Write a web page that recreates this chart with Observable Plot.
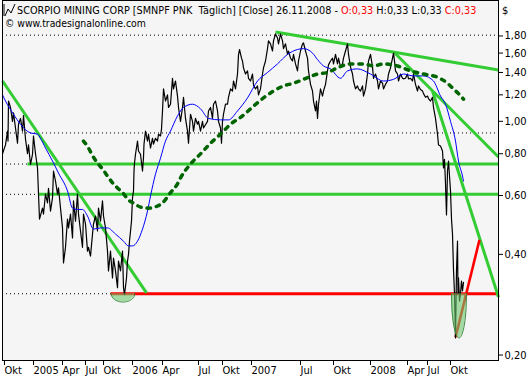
<!DOCTYPE html>
<html><head><meta charset="utf-8">
<script src="https://cdn.jsdelivr.net/npm/d3@7"></script>
<script src="https://cdn.jsdelivr.net/npm/@observablehq/plot@0.6"></script>
<style>
body{margin:0;background:#fff;}
#wrap{position:relative;width:531px;height:380px;overflow:hidden;}
#hdr{position:absolute;left:0;top:0;pointer-events:none;}
#hdr text{font-family:"DejaVu Sans Condensed","DejaVu Sans",sans-serif;font-stretch:condensed;white-space:pre;}
</style></head><body>
<div id="wrap"></div>
<script>
// ---- Data (bar index along the x axis, price in $) ----
const tickBars   = [1, 30, 59, 82, 100, 129, 159, 195, 219, 248, 297, 330, 367, 404, 424, 447];
const tickLabels = ["Okt","2005","Apr","Jul","Okt","2006","Apr","Jul","Okt","2007","Jul","Okt","2008","Apr","Jul","Okt"];
const yTicks = [1.8, 1.6, 1.4, 1.2, 1.0, 0.8, 0.6, 0.4, 0.2];

const close = [[0,0.80],[3,0.85],[5,0.935],[5.5,0.873],[6,1.15],[8,1.10],[10,1.00],[11,1.06],[13,0.955],[15,0.86],[16,0.98],[18,1.02],[20,0.935],[21,1.04],[23,0.885],[25,0.80],[26,0.85],[28,0.743],[30,0.797],[31,0.904],[33,0.80],[35,0.725],[36,0.606],[37,0.51],[40,0.55],[41,0.528],[43,0.606],[45,0.57],[46,0.63],[48,0.539],[50,0.59],[51,0.71],[53,0.663],[55,0.606],[56,0.632],[58,0.55],[60,0.48],[61,0.377],[63,0.42],[65,0.51],[66,0.48],[68,0.528],[70,0.448],[71,0.578],[73,0.503],[75,0.606],[76,0.528],[78,0.47],[80,0.42],[81,0.528],[83,0.493],[85,0.409],[86,0.42],[88,0.395],[90,0.46],[91,0.493],[93,0.521],[95,0.47],[96,0.55],[98,0.503],[100,0.578],[101,0.521],[103,0.48],[105,0.409],[106,0.357],[108,0.409],[110,0.34],[111,0.39],[113,0.357],[115,0.318],[116,0.382],[118,0.357],[120,0.409],[121,0.318],[122,0.303],[124,0.34],[125,0.382],[126,0.40],[127,0.438],[129,0.503],[130,0.59],[131,0.619],[131.5,0.71],[132,0.75],[133,0.797],[135,0.873],[136,0.815],[138,0.797],[140,0.71],[141,0.78],[141.5,0.855],[143,0.935],[145,0.873],[146,0.915],[148,0.832],[150,0.89],[151,0.855],[153,0.89],[155,0.873],[156,0.915],[158,0.904],[159,0.948],[160,1.074],[161,1.25],[163,1.15],[165,1.20],[166,1.10],[168,1.125],[170,1.345],[171,1.25],[173,1.32],[175,1.19],[176,1.10],[178,1.00],[180,1.10],[181,1.18],[183,1.02],[185,0.935],[186,0.86],[188,1.05],[190,1.00],[191,0.935],[193,1.02],[195,0.98],[196,1.00],[198,0.935],[200,1.00],[201,0.955],[205,1.00],[206,1.074],[208,1.10],[210,1.02],[211,1.125],[213,1.15],[215,1.074],[216,1.00],[218,0.955],[219,0.86],[220,1.00],[221,1.05],[223,1.125],[225,1.125],[226,1.18],[228,1.25],[230,1.232],[231,1.32],[233,1.25],[235,1.385],[236,1.58],[237,1.64],[239,1.545],[240,1.515],[241,1.445],[243,1.385],[245,1.415],[246,1.345],[248,1.32],[250,1.385],[251,1.285],[253,1.25],[255,1.276],[256,1.20],[258,1.25],[260,1.385],[261,1.445],[263,1.515],[265,1.65],[266,1.74],[268,1.705],[270,1.623],[271,1.74],[273,1.825],[275,1.775],[276,1.705],[278,1.825],[280,1.74],[281,1.65],[283,1.705],[285,1.585],[286,1.623],[288,1.545],[290,1.515],[291,1.585],[293,1.485],[295,1.415],[296,1.515],[298,1.623],[300,1.705],[301,1.715],[303,1.623],[305,1.545],[306,1.415],[308,1.29],[310,1.232],[311,1.15],[313,1.074],[314,1.15],[315,1.02],[316,1.125],[318,1.25],[320,1.19],[321,1.232],[323,1.29],[325,1.415],[326,1.475],[328,1.515],[330,1.545],[331,1.485],[333,1.585],[335,1.485],[336,1.545],[338,1.455],[340,1.485],[341,1.545],[343,1.623],[345,1.705],[346,1.585],[348,1.455],[350,1.385],[351,1.32],[353,1.25],[355,1.276],[356,1.25],[358,1.232],[360,1.276],[361,1.19],[363,1.25],[365,1.385],[366,1.515],[368,1.585],[370,1.455],[371,1.345],[373,1.385],[375,1.32],[376,1.25],[378,1.32],[380,1.30],[381,1.25],[383,1.29],[385,1.32],[386,1.385],[388,1.445],[390,1.545],[391,1.60],[392,1.515],[393,1.415],[395,1.385],[396,1.32],[398,1.385],[400,1.345],[401,1.34],[403,1.345],[405,1.385],[406,1.34],[408,1.345],[410,1.32],[411,1.385],[413,1.29],[415,1.232],[416,1.276],[418,1.245],[420,1.232],[421,1.21],[423,1.18],[425,1.19],[426,1.17],[428,1.15],[430,1.18],[431,1.10],[433,1.02],[435,0.915],[436,0.85],[438,0.844],[440,0.815],[441,0.725],[442,0.77],[443,0.65],[444,0.525],[445,0.71],[446,0.761],[448,0.619],[449,0.51],[450,0.46],[451,0.36],[452,0.305],[453,0.225],[454,0.357],[455,0.438],[455.5,0.305],[456,0.34],[457,0.29],[458,0.305],[459,0.333],[460,0.311],[461,0.33]];

const maShort = [[0,1.20],[3,1.15],[11,1.05],[18,0.98],[28,0.923],[35,0.916],[38,0.89],[43,0.832],[50,0.761],[56,0.70],[65,0.619],[70,0.55],[75,0.545],[80,0.545],[85,0.521],[91,0.476],[98,0.48],[105,0.48],[113,0.46],[121,0.438],[126,0.424],[130,0.424],[135,0.438],[140,0.476],[145,0.539],[148,0.598],[153,0.695],[158,0.776],[163,0.873],[168,0.935],[175,1.038],[181,1.10],[190,1.125],[198,1.09],[206,1.02],[218,1.01],[226,1.01],[235,1.074],[245,1.175],[255,1.32],[265,1.40],[275,1.485],[285,1.585],[295,1.64],[301,1.65],[310,1.60],[315,1.53],[321,1.464],[328,1.435],[338,1.345],[345,1.415],[355,1.435],[368,1.385],[381,1.32],[391,1.335],[401,1.385],[411,1.367],[421,1.367],[431,1.32],[438,1.19],[443,1.125],[448,1.00],[453,0.873],[456,0.761],[460,0.686],[461,0.663]];

const maLong = [[81,0.873],[86,0.832],[90,0.79],[95,0.75],[100,0.72],[105,0.686],[110,0.655],[115,0.632],[120,0.612],[126,0.582],[132,0.567],[138,0.554],[146,0.55],[155,0.558],[160,0.57],[168,0.612],[175,0.65],[178,0.677],[188,0.745],[198,0.799],[208,0.86],[218,0.916],[228,0.98],[240,1.038],[251,1.11],[261,1.175],[271,1.232],[281,1.276],[291,1.30],[301,1.335],[315,1.385],[325,1.40],[335,1.445],[348,1.485],[361,1.485],[371,1.464],[381,1.485],[395,1.464],[408,1.415],[421,1.385],[435,1.355],[445,1.30],[451,1.25],[456,1.21],[461,1.165]];

// horizontal levels (dotted across the whole chart)
const dottedLevels = [1.81, 0.923, 0.745, 0.605, 0.305];
// solid horizontal lines: start bar, level
const greenLevels = [{from: 25, v: 0.745}, {from: 36, v: 0.605}];
const redLevels   = [{from: 108, v: 0.305}];
// trend lines: [bar1, value1, bar2, value2]
const greenTrends = [
  {x1: 0,   v1: 1.32,  x2: 144, v2: 0.307},
  {x1: 273, v1: 1.85,  x2: 496, v2: 1.424},
  {x1: 391, v1: 1.615, x2: 496, v2: 0.782},
  {x1: 430, v1: 1.232, x2: 496, v2: 0.298}
];
const redTrends = [{x1: 453, v1: 0.226, x2: 477, v2: 0.442}];
// bowl annotations: bar range, rim level, bottom level
const bowls = [
  {x1: 108.7, x2: 132.3, top: 0.305, bottom: 0.288},
  {x1: 449,   x2: 464,   top: 0.305, bottom: 0.225}
];
// header texts
const headerSegments = [
  {t: "SCORPIO MINING CORP [SMNPF PNK  Täglich] [Close] 26.11.2008 - ", c: "#000"},
  {t: "O:0,33", c: "#ff0000"},
  {t: " H:0,33 L:0,33 ", c: "#000"},
  {t: "C:0,33", c: "#ff0000"}
];
const copyright = "© www.tradesignalonline.com";

// ---- build ----
const xEnd = 496;
const labelMap = new Map(tickBars.map((b, i) => [b, tickLabels[i]]));
const fmt = d => d.toFixed(2).replace(".", ",");

const bowlPts = bowls.map((b, k) => {
  const cx = (b.x1 + b.x2) / 2, hw = (b.x2 - b.x1) / 2;
  const pts = [];
  for (let i = 0; i <= 40; i++) {
    const t = -1 + i / 20;
    const s = Math.sqrt(Math.max(0, 1 - t * t));
    pts.push({k, x: cx + hw * t, top: b.top, v: b.top * Math.pow(b.bottom / b.top, s)});
  }
  return pts;
}).flat();

const GREEN = "#33cc33", RED = "#ff0000";
const chart = Plot.plot({
  width: 531, height: 380,
  marginLeft: 2, marginRight: 33, marginTop: 0, marginBottom: 20,
  style: {fontFamily: "'DejaVu Sans Condensed','DejaVu Sans',sans-serif", fontStretch: "condensed", fontSize: "11px", background: "#fff", color: "#000", overflow: "visible"},
  x: {type: "linear", domain: [0, xEnd]},
  y: {type: "log", domain: [0.1926, 2.298]},
  marks: [
    Plot.frame({fill: "#f5f5f5", stroke: null}),
    Plot.ruleY(dottedLevels, {stroke: "#000", strokeWidth: 1, strokeDasharray: "1,3"}),
    Plot.link(greenLevels, {x1: "from", x2: () => xEnd, y1: "v", y2: "v", stroke: GREEN, strokeWidth: 3}),
    Plot.link(redLevels, {x1: "from", x2: () => xEnd, y1: "v", y2: "v", stroke: RED, strokeWidth: 3}),
    Plot.link(greenTrends, {x1: "x1", y1: "v1", x2: "x2", y2: "v2", stroke: GREEN, strokeWidth: 3}),
    Plot.link(redTrends, {x1: "x1", y1: "v1", x2: "x2", y2: "v2", stroke: RED, strokeWidth: 2.6}),
    Plot.line(close, {x: d => d[0], y: d => d[1], stroke: "#000", strokeWidth: 1.2}),
    Plot.line(maShort, {x: d => d[0], y: d => d[1], stroke: "#0000ff", strokeWidth: 1, curve: "monotone-x"}),
    Plot.line(maLong, {x: d => d[0], y: d => d[1], stroke: "#006400", strokeWidth: 3.5, strokeDasharray: "3.5,6", curve: "monotone-x"}),
    Plot.areaY(bowlPts, {x: "x", y1: "top", y2: "v", z: "k", fill: "#6cc86c", fillOpacity: 0.6}),
    Plot.line(bowlPts, {x: "x", y: "v", z: "k", stroke: "#3f8a3f", strokeWidth: 1}),
    Plot.frame({stroke: "#000", strokeWidth: 1}),
    Plot.axisY(yTicks, {anchor: "right", tickSize: 4, tickPadding: 2, tickFormat: fmt, fontSize: 11, stroke: "#000"}),
    Plot.axisX(tickBars, {anchor: "bottom", tickSize: 5, tickPadding: 1, tickFormat: d => labelMap.get(d), textAnchor: "start", dx: 1, fontSize: 11, stroke: "#000"})
  ]
});
const wrap = document.getElementById("wrap");
wrap.appendChild(chart);

// header overlay (segments laid out one after another, scaled to the reference width)
const NS = "http://www.w3.org/2000/svg";
const hdr = document.createElementNS(NS, "svg");
hdr.setAttribute("id", "hdr");
hdr.setAttribute("width", "531");
hdr.setAttribute("height", "32");
hdr.innerHTML =
  '<polyline points="5,16 8,9 11,13 15,4" fill="none" stroke="#000" stroke-width="1"/>' +
  '<line x1="4" y1="4" x2="4" y2="16" stroke="#000" stroke-width="1"/>' +
  '<text x="502" y="14" font-size="11">$</text>';
wrap.appendChild(hdr);

function addText(str, x, y, size, color) {
  const t = document.createElementNS(NS, "text");
  t.setAttribute("x", x); t.setAttribute("y", y);
  t.setAttribute("font-size", size); t.setAttribute("fill", color);
  t.textContent = str;
  hdr.appendChild(t);
  return t;
}
// measure at 11px, then choose the size to fill the line width
const probe = headerSegments.map(s => addText(s.t, 0, -50, 11, s.c));
const w11 = probe.reduce((a, t) => a + t.getComputedTextLength(), 0);
probe.forEach(t => t.remove());
const size1 = Math.min(11.5, 11 * 460 / w11);
let cx = 17;
headerSegments.forEach(s => {
  const t = addText(s.t, cx, 14, size1, s.c);
  cx += t.getComputedTextLength();
});
const c = addText(copyright, 5, 27, 11, "#000");
const cw = c.getComputedTextLength();
if (cw > 0) c.setAttribute("font-size", Math.min(11.5, 11 * 141 / cw));
</script></body></html>
